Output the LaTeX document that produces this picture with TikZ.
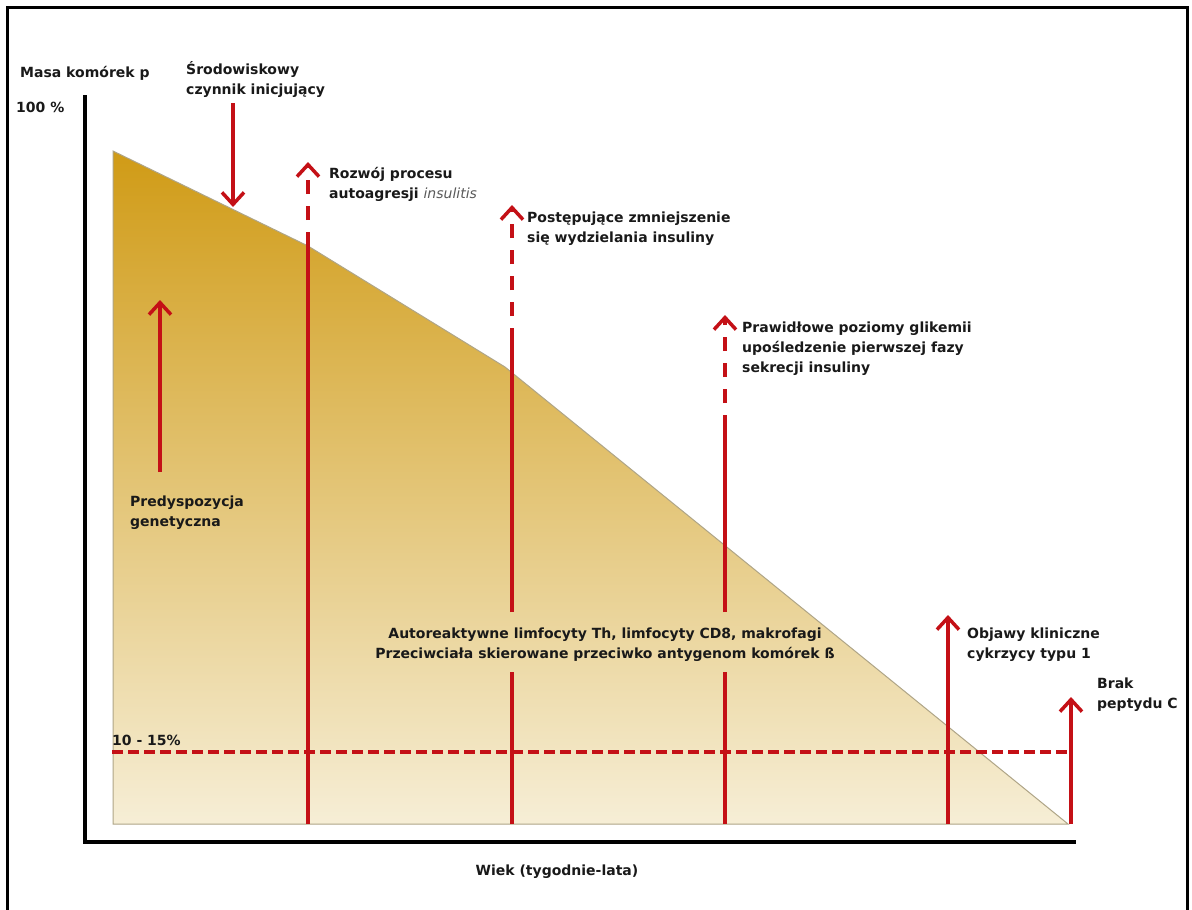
\documentclass[tikz,border=0pt]{standalone}
\usepackage{fontspec}
\setmainfont{DejaVu Sans}
\usetikzlibrary{arrows.meta}
\definecolor{arrred}{RGB}{196,16,22}
\definecolor{goldtop}{RGB}{208,155,22}
\definecolor{goldbot}{RGB}{246,238,214}
\definecolor{edgegrey}{RGB}{175,165,135}
\definecolor{txt}{RGB}{25,25,25}
\definecolor{itgrey}{RGB}{90,90,90}
\begin{document}
\begin{tikzpicture}[x=1pt,y=-1pt,
  lbl/.style={font=\bfseries\fontsize{14}{20}\selectfont, text=txt, inner sep=0pt, align=left},
  redline/.style={draw=arrred, line width=3.5pt},
  redarrow/.style={redline, -{Straight Barb[length=12pt,width=22pt]}},
  reddash/.style={redarrow, dash pattern=on 14pt off 12pt},
]
\useasboundingbox (0,0) rectangle (1192,910);
\fill[white] (0,0) rectangle (1192,910);
\draw[line width=3pt] (7,915) -- (7,7) -- (1187,7) -- (1187,915);

% shaded mass area
\shade[top color=goldtop, bottom color=goldbot, draw=edgegrey, line width=1pt]
  (113,151) -- (308,246) -- (505,367) -- (1068,824) -- (113,824) -- cycle;

% axes
\coordinate (ytop) at (85,95);
\coordinate (orig) at (85,842);
\coordinate (xend) at (1076,842);
\draw[line width=4pt] (ytop) -- (orig) -- (xend);

% 10-15% dashed threshold
\coordinate (thl) at (112,752);
\coordinate (thr) at (1070,752);
\draw[draw=arrred, line width=3.5pt, dash pattern=on 11pt off 5pt] (thl) -- (thr);

% environmental trigger (down arrow)
\coordinate (envs) at (233,103);
\coordinate (envt) at (233,207);
\draw[redarrow] (envs) -- (envt);

% genetic predisposition
\coordinate (gens) at (160,472);
\coordinate (gent) at (160,300);
\draw[redarrow] (gens) -- (gent);

% arrow 1 (insulitis)
\coordinate (a1b) at (308,824);
\coordinate (a1m) at (308,246);
\coordinate (a1t) at (308,162);
\draw[redline] (a1b) -- (a1m);
\draw[reddash] (a1m) -- (a1t);

% arrow 2
\coordinate (a2b) at (512,824);
\coordinate (a2g1) at (512,672);
\coordinate (a2g2) at (512,612);
\coordinate (a2m) at (512,328);
\coordinate (a2d) at (512,316);
\coordinate (a2t) at (512,205);
\draw[redline] (a2b) -- (a2g1);
\draw[redline] (a2g2) -- (a2m);
\draw[reddash] (a2d) -- (a2t);

% arrow 3
\coordinate (a3b) at (725,824);
\coordinate (a3g1) at (725,672);
\coordinate (a3g2) at (725,612);
\coordinate (a3m) at (725,415);
\coordinate (a3d) at (725,403);
\coordinate (a3t) at (725,315);
\draw[redline] (a3b) -- (a3g1);
\draw[redline] (a3g2) -- (a3m);
\draw[reddash] (a3d) -- (a3t);

% arrow 4 clinical
\coordinate (a4b) at (948,824);
\coordinate (a4t) at (948,615);
\draw[redarrow] (a4b) -- (a4t);

% arrow 5 no C-peptide
\coordinate (a5b) at (1071,824);
\coordinate (a5t) at (1071,697);
\draw[redarrow] (a5b) -- (a5t);

% labels (base anchor = baseline of the last line)
\node[lbl, anchor=base west] (masa) at (20,77) {Masa komórek p};
\node[lbl, anchor=base west] (p100) at (16,112) {100 \%};
\node[lbl, anchor=base west] (env) at (186,94) {Środowiskowy\\czynnik inicjujący};
\node[lbl, anchor=base west] (ins) at (329,198) {Rozwój procesu\\autoagresji {\mdseries\itshape\color{itgrey}insulitis}};
\node[lbl, anchor=base west] (post) at (527,242) {Postępujące zmniejszenie\\się wydzielania insuliny};
\node[lbl, anchor=base west] (praw) at (742,372) {Prawidłowe poziomy glikemii\\upośledzenie pierwszej fazy\\sekrecji insuliny};
\node[lbl, anchor=base west] (pred) at (130,526) {Predyspozycja\\genetyczna};
\node[lbl, align=center, anchor=base] (auto) at (605,658) {Autoreaktywne limfocyty Th, limfocyty CD8, makrofagi\\Przeciwciała skierowane przeciwko antygenom komórek ß};
\node[lbl, anchor=base west] (obj) at (967,658) {Objawy kliniczne\\cykrzycy typu 1};
\node[lbl, anchor=base west] (brak) at (1097,708) {Brak\\peptydu C};
\node[lbl, anchor=base west] (thr) at (112,745) {10 - 15\%};
\node[lbl, anchor=base] (wiek) at (557,875) {Wiek (tygodnie-lata)};
\end{tikzpicture}
\end{document}
